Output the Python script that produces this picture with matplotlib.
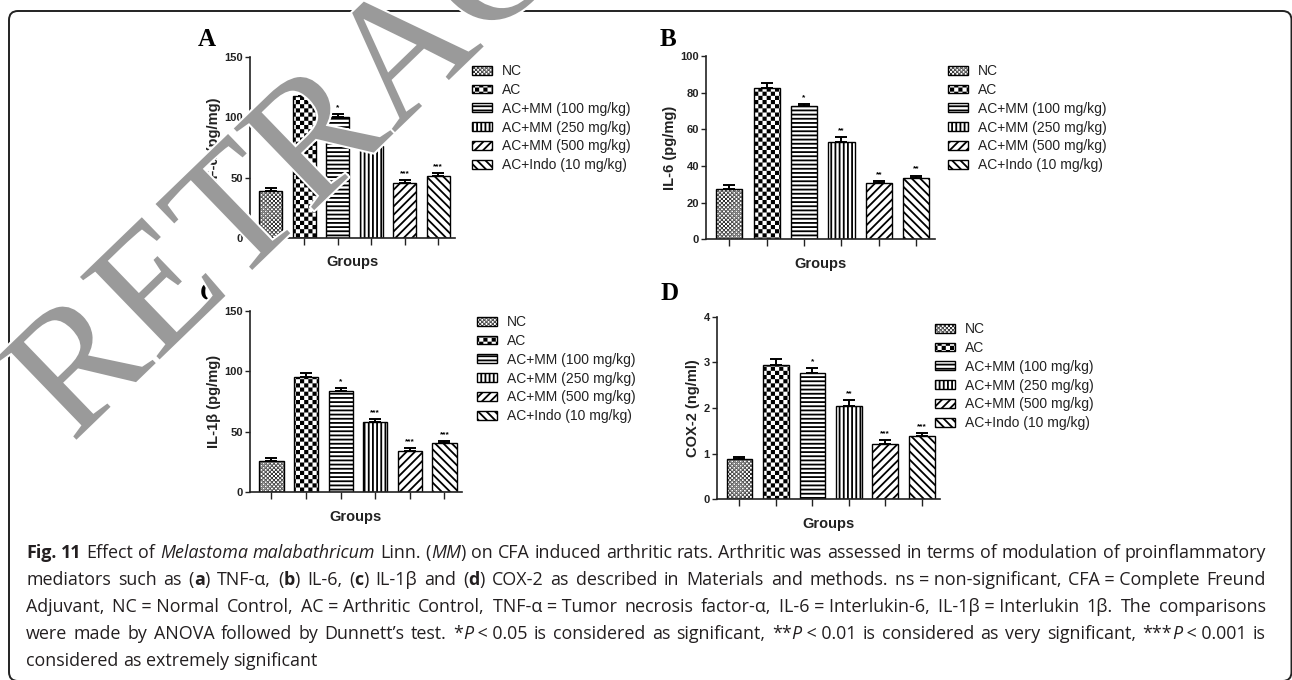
import re
import warnings
import numpy as np
import matplotlib
matplotlib.use('Agg')
import matplotlib.pyplot as plt
import matplotlib.patheffects as pe
from matplotlib import hatch as mhatch
from matplotlib.path import Path
from matplotlib.patches import FancyBboxPatch

warnings.filterwarnings('ignore')

W, H = 1292, 680

groups = ['NC', 'AC', 'AC+MM (100 mg/kg)', 'AC+MM (250 mg/kg)',
          'AC+MM (500 mg/kg)', 'AC+Indo (10 mg/kg)']

tnf = [39.2, 118.0, 100.0, 76.5, 45.8, 51.4]
tnf_err = [2.0, 3.0, 2.5, 2.0, 2.3, 2.7]
tnf_sig = ['', '', '*', '**', '***', '***']

il6 = [27.3, 82.8, 72.8, 53.3, 30.9, 33.7]
il6_err = [2.2, 2.4, 1.1, 2.4, 1.0, 1.1]
il6_sig = ['', '', '*', '**', '**', '**']

il1b = [26.1, 95.5, 83.7, 58.3, 34.1, 40.4]
il1b_err = [2.0, 2.8, 2.7, 2.5, 2.2, 2.0]
il1b_sig = ['', '', '*', '***', '***', '***']

cox2 = [0.88, 2.95, 2.76, 2.05, 1.21, 1.38]
cox2_err = [0.05, 0.12, 0.12, 0.12, 0.09, 0.08]
cox2_sig = ['', '', '*', '**', '***', '***']

caption = [
    "{b:Fig.} {b:11} Effect of {i:Melastoma} {i:malabathricum} Linn. ({i:MM}) on CFA induced arthritic rats. "
    "Arthritic was assessed in terms of modulation of proinflammatory",
    "mediators such as ({b:a}) TNF-α, ({b:b}) IL-6, ({b:c}) IL-1β and ({b:d}) COX-2 as described in Materials and "
    "methods. ns~=~non-significant, CFA~=~Complete Freund",
    "Adjuvant, NC~=~Normal Control, AC~=~Arthritic Control, TNF-α~=~Tumor necrosis factor-α, IL-6~=~Interlukin-6, "
    "IL-1β~=~Interlukin 1β. The comparisons",
    "were made by ANOVA followed by Dunnett’s test. *{i:P}~<~0.05 is considered as significant, **{i:P}~<~0.01 is "
    "considered as very significant, ***{i:P}~<~0.001 is",
    "considered as extremely significant",
]

HATCHES = ['cccccccc', 'cccc', '----', '||||', '////', '\\\\\\\\']
NARROW = ['Liberation Sans Narrow', 'Liberation Sans', 'DejaVu Sans']
SANS = ['Liberation Sans', 'DejaVu Sans']
CAP_FONT = ['Open Sans', 'DejaVu Sans']
CAP_COLOR = '#231f20'

plt.rcParams['hatch.linewidth'] = 1.3


# checkerboard fill for the NC / AC bars (no built-in hatch for it)
class CheckerHatch(mhatch.HatchPatternBase):
    def __init__(self, hatch, density):
        self.n = int(hatch.count('c') * density)
        self.num_vertices = 5 * (self.n * self.n // 2)

    def set_vertices_and_codes(self, vertices, codes):
        n = self.n
        s = 1.0 / n
        shrink = plt.rcParams['hatch.linewidth'] / 72.0 / 2
        k = 0
        for i in range(n):
            for j in range(n):
                if (i + j) % 2:
                    continue
                x0, y0 = i * s + shrink, j * s + shrink
                x1, y1 = (i + 1) * s - shrink, (j + 1) * s - shrink
                vertices[k:k + 5] = [[x0, y0], [x1, y0], [x1, y1], [x0, y1], [x0, y0]]
                codes[k:k + 5] = [Path.MOVETO, Path.LINETO, Path.LINETO, Path.LINETO, Path.CLOSEPOLY]
                k += 5


mhatch._hatch_types.append(CheckerHatch)

fig = plt.figure(figsize=(W / 100, H / 100), dpi=100)


def draw_panel(box, vals, errs, sig, ymax, yticks, ylabel, leg_xy):
    x0, y0, x1, y1 = box
    ax = fig.add_axes([x0 / W, 1 - y1 / H, (x1 - x0) / W, (y1 - y0) / H])
    x = np.arange(len(groups))
    bars = ax.bar(x, vals, width=0.7, color='white', edgecolor='black', linewidth=1.0, zorder=2)
    for b, h in zip(bars, HATCHES):
        b.set_hatch(h)
    ax.errorbar(x, vals, yerr=[np.zeros(len(vals)), errs], fmt='none', ecolor='black',
                elinewidth=1.4, capsize=4.5, capthick=1.4, zorder=3)
    for xi, v, e, s in zip(x, vals, errs, sig):
        if s:
            ax.annotate(s, (xi, v + e), xytext=(0, 2), textcoords='offset points',
                        ha='center', va='bottom', fontsize=6, fontweight='bold', family=SANS)
    ax.set_xlim(-0.62, 5.5)
    ax.set_ylim(0, ymax)
    ax.set_xticks(x, labels=[])
    ax.set_yticks(yticks, labels=[str(t) for t in yticks], family=NARROW,
                  fontweight='bold', fontsize=8, color='#222222')
    ax.tick_params(axis='x', length=5, width=1, color='#222222')
    ax.tick_params(axis='y', length=3.5, width=1, color='#222222', pad=1.5)
    for sp in ['top', 'right']:
        ax.spines[sp].set_visible(False)
    for sp in ['left', 'bottom']:
        ax.spines[sp].set_linewidth(1.2)
        ax.spines[sp].set_color('#222222')
    ax.patch.set_alpha(0)
    ax.set_ylabel(ylabel, family=SANS, fontweight='bold', fontsize=10.5, labelpad=2.5, color='#222222')
    ax.set_xlabel('Groups', family=SANS, fontweight='bold', fontsize=10.5, labelpad=4, color='#222222')
    lx, ly = leg_xy
    ax.legend(bars.patches, groups, loc='upper left', bbox_to_anchor=(lx / W, 1 - ly / H),
              bbox_transform=fig.transFigure, frameon=False, borderpad=0, borderaxespad=0,
              handlelength=1.45, handleheight=0.6, handletextpad=0.7, labelspacing=0.35,
              prop=dict(family=NARROW, size=10), labelcolor='#222222')
    return ax


draw_panel((250, 57, 455, 238), tnf, tnf_err, tnf_sig, 150, [0, 50, 100, 150], 'TNF-α (pg/mg)', (472, 64))
draw_panel((706, 56, 935, 239.3), il6, il6_err, il6_sig, 100, [0, 20, 40, 60, 80, 100], 'IL-6 (pg/mg)', (948, 64))
draw_panel((250, 310.7, 461.7, 492.3), il1b, il1b_err, il1b_sig, 150, [0, 50, 100, 150], 'IL-1β (pg/mg)', (477, 315))
draw_panel((716.7, 316.7, 940, 499.3), cox2, cox2_err, cox2_sig, 4, [0, 1, 2, 3, 4], 'COX-2 (ng/ml)', (935, 322))

# overlay in pixel coordinates for frame, letters, caption and watermark
ov = fig.add_axes([0, 0, 1, 1], zorder=10)
ov.set_xlim(0, W)
ov.set_ylim(H, 0)
ov.set_axis_off()

ov.add_patch(FancyBboxPatch((9, 11), 1282.5, 670, boxstyle='round,pad=0,rounding_size=9',
                            fill=False, edgecolor='#222222', linewidth=1.4))

for lab, (lx, ly) in zip('ABCD', [(207, 39), (668, 39), (209, 293), (670, 293)]):
    ov.text(lx, ly, lab, ha='center', va='center', family=['Liberation Serif', 'DejaVu Serif'],
            fontweight='bold', fontsize=18, color='black')

# caption: justified lines, mixed bold / italic runs
renderer = fig.canvas.get_renderer()


def run_props(style):
    d = dict(family=CAP_FONT, color=CAP_COLOR)
    if style == 'b':
        d['fontweight'] = 'bold'
    if style == 'i':
        d['fontstyle'] = 'italic'
    return d


def advance(s, style, fs):
    t = ov.text(0, 0, 'I' + s + 'I', fontsize=fs, **run_props(style))
    t2 = ov.text(0, 0, 'II', fontsize=fs, **run_props(style))
    w = t.get_window_extent(renderer).width - t2.get_window_extent(renderer).width
    t.remove()
    t2.remove()
    return w


def parse(line):
    words = []
    for word in line.split(' '):
        runs = []
        for piece in re.split(r'(\{[bi]:[^}]*\})', word):
            if not piece:
                continue
            m = re.match(r'\{([bi]):([^}]*)\}', piece)
            if m:
                runs.append((m.group(2).replace('~', ' '), m.group(1)))
            else:
                runs.append((piece.replace('~', ' '), ''))
        words.append(runs)
    return words


parsed = [parse(l) for l in caption]
fs0 = 10.0
space0 = advance(' ', '', fs0)
nat1 = sum(advance(s, st, fs0) for w in parsed[0] for s, st in w) + space0 * (len(parsed[0]) - 1)
cap_fs = fs0 * 1234.0 / nat1

left, right = 26, 1266
baselines = [558, 585, 612, 639, 666]
space = advance(' ', '', cap_fs)
for li, (words, yb) in enumerate(zip(parsed, baselines)):
    widths = [[advance(s, st, cap_fs) for s, st in w] for w in words]
    total = sum(sum(ws) for ws in widths)
    if li < len(parsed) - 1:
        gap = (right - left - total) / (len(words) - 1)
    else:
        gap = space
    xpos = left
    for w, ws in zip(words, widths):
        for (s, st), wd in zip(w, ws):
            ov.text(xpos, yb, s, ha='left', va='baseline', fontsize=cap_fs, **run_props(st))
            xpos += wd
        xpos += gap

ov.text(72, 444, 'RETRACTED', rotation=44, rotation_mode='anchor', ha='left', va='baseline',
        fontsize=126, family=['Liberation Serif', 'DejaVu Serif'], color='#9a9a9a', zorder=20,
        path_effects=[pe.withStroke(linewidth=3, foreground='white')])

fig.savefig('out.png', dpi=100)
